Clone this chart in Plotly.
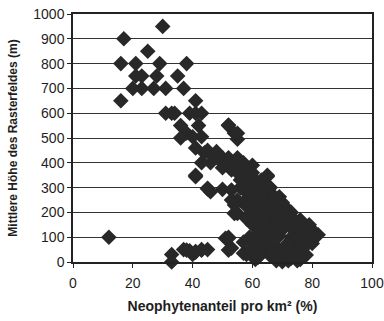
import plotly.graph_objects as go

neophyten_pct = [
    30, 17, 25, 16, 21, 29, 38, 21, 23, 28, 35, 20, 23, 27, 31, 37, 16, 41,
    31, 33, 34, 39, 41, 43, 36, 42, 38, 40, 36, 43, 41, 45, 44, 48, 50, 43,
    46, 51, 41, 45, 50, 12, 33, 33, 37, 39, 41, 43, 45, 40, 52, 55, 54, 53,
    60, 65, 56, 55, 55, 52, 52, 57, 62, 70, 72, 75, 81, 80, 78, 78, 72, 69,
    47, 49, 52, 54, 50, 57,
    55, 57, 59, 61, 58, 62, 56, 60, 64, 53, 58, 62, 66, 60, 64, 67,
    57, 60, 63, 66, 69, 58, 62, 65, 68, 71, 60, 63, 67, 70, 73,
    58, 62, 65, 68, 72, 75, 60, 64, 67, 70, 74, 77, 62, 66, 69, 73, 76, 79, 59, 64,
    57, 61, 67, 71, 74, 77, 60, 64, 69, 72, 75, 58, 66, 70, 73, 76, 61, 68,
    80, 82, 79, 76, 73, 70, 66, 63, 60, 57, 55,
    54, 54, 51, 53, 62, 65, 52, 55, 41, 45, 38, 41, 43, 52, 54, 53, 46,
    59, 63, 67, 71, 65, 69, 74, 62, 68, 72, 66, 70,
]
hoehe_m = [
    950, 900, 850, 800, 800, 800, 800, 750, 750, 750, 750, 700, 700, 700, 700, 700, 650, 650,
    600, 600, 600, 600, 600, 600, 550, 550, 520, 505, 500, 505, 460, 450, 440, 445, 420, 400,
    400, 398, 350, 295, 293, 100, 30, 0, 50, 45, 40, 50, 50, 30, 550, 495, 519, 371,
    390, 345, 331, 250, 196, 100, 48, 35, 21, 1, 5, 5, 100, 75, 28, 110, 210, 263,
    430, 410, 420, 400, 380, 380,
    360, 350, 340, 330, 320, 310, 300, 300, 300, 290, 280, 280, 280, 265, 260, 260,
    240, 240, 240, 235, 230, 225, 220, 215, 210, 200, 200, 195, 190, 185, 180,
    175, 170, 165, 160, 155, 150, 150, 140, 135, 130, 125, 120, 120, 110, 105, 100, 95, 90, 100, 90,
    80, 75, 70, 65, 60, 55, 55, 50, 45, 40, 35, 30, 25, 20, 15, 10, 10, 5,
    130, 110, 150, 170, 200, 240, 300, 330, 360, 400, 420,
    230, 197, 96, 56, 20, 350, 552, 519, 344, 297, 48, 42, 48, 96, 196, 250, 283,
    320, 270, 250, 160, 200, 120, 90, 60, 145, 75, 40, 165,
]

x_ticks = [0, 20, 40, 60, 80, 100]
y_ticks = [0, 100, 200, 300, 400, 500, 600, 700, 800, 900, 1000]

fig = go.Figure(go.Scatter(
    x=neophyten_pct, y=hoehe_m, mode="markers",
    marker=dict(symbol="diamond", size=12, color="#282828"),
    cliponaxis=False, showlegend=False, hoverinfo="skip",
))

fig.update_layout(
    width=384, height=321,
    margin=dict(l=73, r=12, t=14, b=59, autoexpand=False),
    paper_bgcolor="white", plot_bgcolor="white",
    font=dict(family="Liberation Sans, Arial, sans-serif", color="#1e1e1e", size=14),
)
fig.update_xaxes(
    range=[0, 100], tickvals=x_ticks, showgrid=False, zeroline=False, automargin=False,
    showline=True, linecolor="#222", linewidth=1.5, mirror=True,
    ticks="outside", ticklen=4, tickcolor="#222", ticklabeloverflow="allow",
    ticklabelstandoff=3,
    title=dict(text="<b>Neophytenanteil pro km² (%)</b>", font=dict(size=14), standoff=12),
)
fig.update_yaxes(
    range=[0, 1000], tickvals=y_ticks, showgrid=True, gridcolor="#333", gridwidth=1,
    zeroline=False, showline=True, linecolor="#222", linewidth=1.5, mirror=True, automargin=False,
    ticks="outside", ticklen=4, tickcolor="#222", ticklabeloverflow="allow",
    title=dict(text="<b>Mittlere Höhe des Rasterfeldes (m)</b>", font=dict(size=12), standoff=13),
)

fig.write_html(
    "out.html",
    config={"displayModeBar": False},
    post_script="document.body.style.margin='0';document.body.style.overflow='hidden';",
)
